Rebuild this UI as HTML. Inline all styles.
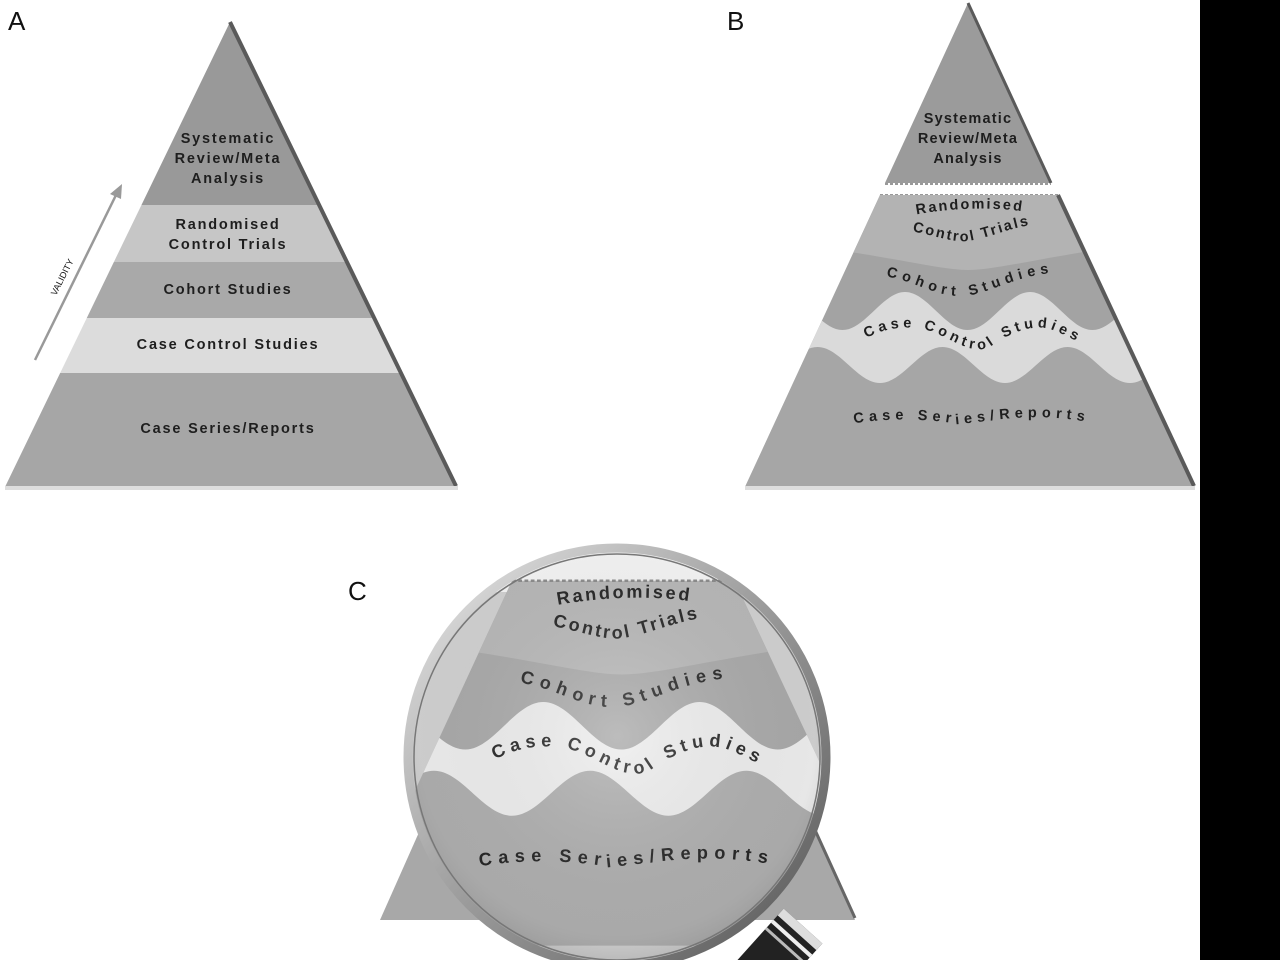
<!DOCTYPE html>
<html><head><meta charset="utf-8"><style>
html,body{margin:0;padding:0;background:#fff;width:1280px;height:960px;overflow:hidden}
svg{display:block}
text{font-family:"Liberation Sans",sans-serif;font-weight:bold;fill:#1e1e1e}
text.lbl{font-weight:normal;fill:#111}
</style></head><body>
<svg width="1280" height="960" viewBox="0 0 1280 960" xmlns="http://www.w3.org/2000/svg">
<defs>
<clipPath id="ca"><polygon points="230,22 5,487 458,487"/></clipPath>
<clipPath id="cb"><polygon points="880,195 1058,195 1195,487 745,487"/></clipPath>
<clipPath id="cc"><circle cx="617" cy="757" r="206"/></clipPath>
<clipPath id="frame"><rect x="0" y="0" width="1280" height="960"/></clipPath>
<radialGradient id="lensg" cx="0.5" cy="0.45" r="0.6">
<stop offset="0" stop-color="#ffffff" stop-opacity="0.25"/>
<stop offset="0.8" stop-color="#888" stop-opacity="0.05"/>
<stop offset="1" stop-color="#555" stop-opacity="0.35"/>
</radialGradient>
<linearGradient id="ring" x1="0" y1="0" x2="1" y2="1">
<stop offset="0" stop-color="#e8e8e8"/><stop offset="0.5" stop-color="#9a9a9a"/><stop offset="1" stop-color="#555"/>
</linearGradient>
<path id="bRand" d="M905,217 C940,208 1000,205 1035,214"/>
<path id="bCtl" d="M898,229 C930,233 950,243 968,241 C990,238 1012,226 1045,223"/>
<path id="bCoh" d="M870,275 C910,276 930,296 960,296 C990,296 1015,272 1070,272"/>
<path id="bCC" d="M852,347 C880,327 905,324 930,331 C955,340 970,355 990,347 C1010,333 1030,324 1050,329 C1065,334 1080,344 1095,349"/>
<path id="bCS" d="M835,427 C880,417 920,418 960,424 C1000,420 1040,410 1108,426"/>
</defs>
<g clip-path="url(#frame)">
<!-- Pyramid A -->
<g clip-path="url(#ca)">
<rect x="0" y="0" width="460" height="205" fill="#999"/>
<rect x="0" y="205" width="460" height="57" fill="#c6c6c6"/>
<rect x="0" y="262" width="460" height="56" fill="#a9a9a9"/>
<rect x="0" y="318" width="460" height="55" fill="#dcdcdc"/>
<rect x="0" y="373" width="460" height="114" fill="#a6a6a6"/>
</g>
<line x1="230" y1="22" x2="456" y2="486" stroke="#5a5a5a" stroke-width="4"/>
<rect x="5" y="486" width="453" height="4" fill="#ddd"/>
<g font-size="14.5" text-anchor="middle" letter-spacing="1.8">
<text x="228" y="143">Systematic</text>
<text x="228" y="163">Review/Meta</text>
<text x="228" y="183">Analysis</text>
<text x="228" y="229">Randomised</text>
<text x="228" y="249">Control Trials</text>
<text x="228" y="294">Cohort Studies</text>
<text x="228" y="349">Case Control Studies</text>
<text x="228" y="433">Case Series/Reports</text>
</g>
<line x1="35" y1="360" x2="117" y2="193" stroke="#999" stroke-width="2.5"/>
<polygon points="122,184 110,194 121,199" fill="#999"/>
<text class="lbl" x="0" y="0" font-size="9" fill="#333" transform="translate(56,296) rotate(-63)">VALIDITY</text>
<text class="lbl" x="8" y="30" font-size="26">A</text>

<!-- Pyramid B -->
<polygon points="968,3 1051,183 885,183" fill="#9b9b9b"/>
<line x1="968" y1="3" x2="1051" y2="183" stroke="#5a5a5a" stroke-width="3"/>
<line x1="885" y1="184" x2="1051" y2="184" stroke="#999" stroke-width="2" stroke-dasharray="3,2"/>
<line x1="880" y1="195" x2="1058" y2="195" stroke="#999" stroke-width="2" stroke-dasharray="3,2"/>
<g clip-path="url(#cb)">
<rect x="740" y="190" width="460" height="300" fill="#a3a3a3"/>
<path d="M700,190 L1230,190 L1230,240 C1100,240 1010,270 968,270 C926,270 836,240 700,240 Z" fill="#b3b3b3"/>
<path d="M717.5,330 C740,330 757.5,292 780,292 C802.5,292 820,330 842.5,330 C865,330 882.5,292 905,292 C927.5,292 945,330 967.5,330 C990,330 1007.5,292 1030,292 C1052.5,292 1070,330 1092.5,330 C1115,330 1132.5,292 1155,292 C1177.5,292 1195,330 1217.5,330 L1217.5,490 L717.5,490 Z" fill="#dadada"/>
<path d="M717.5,347 C740,347 757.5,383 780,383 C802.5,383 820,347 842.5,347 C865,347 882.5,383 905,383 C927.5,383 945,347 967.5,347 C990,347 1007.5,383 1030,383 C1052.5,383 1070,347 1092.5,347 C1115,347 1132.5,383 1155,383 C1177.5,383 1195,347 1217.5,347 L1217.5,490 L717.5,490 Z" fill="#a6a6a6" transform="translate(-25,0)"/>
</g>
<line x1="1058" y1="195" x2="1194" y2="486" stroke="#5a5a5a" stroke-width="4"/>
<rect x="745" y="486" width="450" height="4" fill="#ddd"/>
<g font-size="14.5" text-anchor="middle" letter-spacing="1.2">
<text x="968" y="123">Systematic</text>
<text x="968" y="143">Review/Meta</text>
<text x="968" y="163">Analysis</text>
</g>
<g font-size="14.5">
<text letter-spacing="2"><textPath href="#bRand" startOffset="50%" text-anchor="middle">Randomised</textPath></text>
<text letter-spacing="2"><textPath href="#bCtl" startOffset="50%" text-anchor="middle">Control Trials</textPath></text>
<text letter-spacing="5"><textPath href="#bCoh" startOffset="50%" text-anchor="middle">Cohort Studies</textPath></text>
<text letter-spacing="4"><textPath href="#bCC" startOffset="50%" text-anchor="middle">Case Control Studies</textPath></text>
<text letter-spacing="5"><textPath href="#bCS" startOffset="50%" text-anchor="middle">Case Series/Reports</textPath></text>
</g>
<text class="lbl" x="727" y="30" font-size="26">B</text>

<!-- Panel C -->
<polygon points="380,920 855,920 815,830 420,830" fill="#a8a8a8"/>
<line x1="815" y1="830" x2="855" y2="918" stroke="#666" stroke-width="3"/>
<circle cx="617" cy="757" r="206" fill="#c9c9c9"/>
<g clip-path="url(#cc)">
<rect x="400" y="540" width="440" height="420" fill="#cfcfcf"/>
<rect x="400" y="540" width="440" height="52" fill="#f4f4f4"/>
<g transform="translate(-588,337) scale(1.25)">
<g clip-path="url(#cb)">
<rect x="740" y="190" width="460" height="300" fill="#a6a6a6"/>
<path d="M700,190 L1230,190 L1230,240 C1100,240 1010,270 968,270 C926,270 836,240 700,240 Z" fill="#b5b5b5"/>
<path d="M717.5,330 C740,330 757.5,292 780,292 C802.5,292 820,330 842.5,330 C865,330 882.5,292 905,292 C927.5,292 945,330 967.5,330 C990,330 1007.5,292 1030,292 C1052.5,292 1070,330 1092.5,330 C1115,330 1132.5,292 1155,292 C1177.5,292 1195,330 1217.5,330 L1217.5,490 L717.5,490 Z" fill="#ececec"/>
<path d="M717.5,347 C740,347 757.5,383 780,383 C802.5,383 820,347 842.5,347 C865,347 882.5,383 905,383 C927.5,383 945,347 967.5,347 C990,347 1007.5,383 1030,383 C1052.5,383 1070,347 1092.5,347 C1115,347 1132.5,383 1155,383 C1177.5,383 1195,347 1217.5,347 L1217.5,490 L717.5,490 Z" fill="#ababab" transform="translate(-25,0)"/>
</g>
<line x1="880" y1="195" x2="1058" y2="195" stroke="#888" stroke-width="2" stroke-dasharray="3,2"/>
<g font-size="14.5">
<text letter-spacing="2"><textPath href="#bRand" startOffset="50%" text-anchor="middle">Randomised</textPath></text>
<text letter-spacing="2"><textPath href="#bCtl" startOffset="50%" text-anchor="middle">Control Trials</textPath></text>
<text letter-spacing="5"><textPath href="#bCoh" startOffset="50%" text-anchor="middle">Cohort Studies</textPath></text>
<text letter-spacing="4"><textPath href="#bCC" startOffset="50%" text-anchor="middle">Case Control Studies</textPath></text>
<text letter-spacing="5"><textPath href="#bCS" startOffset="50%" text-anchor="middle">Case Series/Reports</textPath></text>
</g>
</g>
<circle cx="617" cy="757" r="206" fill="url(#lensg)"/>
</g>
<!-- handle -->
<g transform="translate(795,935) rotate(42)">
<rect x="-26" y="-12" width="52" height="90" fill="#222"/>
<rect x="-26" y="-12" width="52" height="9" fill="#ddd"/>
<rect x="-26" y="3" width="52" height="4" fill="#eee"/>
<rect x="-26" y="13" width="52" height="3" fill="#bbb"/>
</g>
<circle cx="617" cy="757" r="209" fill="none" stroke="url(#ring)" stroke-width="9"/>
<circle cx="617" cy="757" r="203" fill="none" stroke="#777" stroke-width="1.5"/>
<text class="lbl" x="348" y="600" font-size="26">C</text>

<rect x="1200" y="0" width="80" height="960" fill="#000"/>
</g>
</svg>
</body></html>
